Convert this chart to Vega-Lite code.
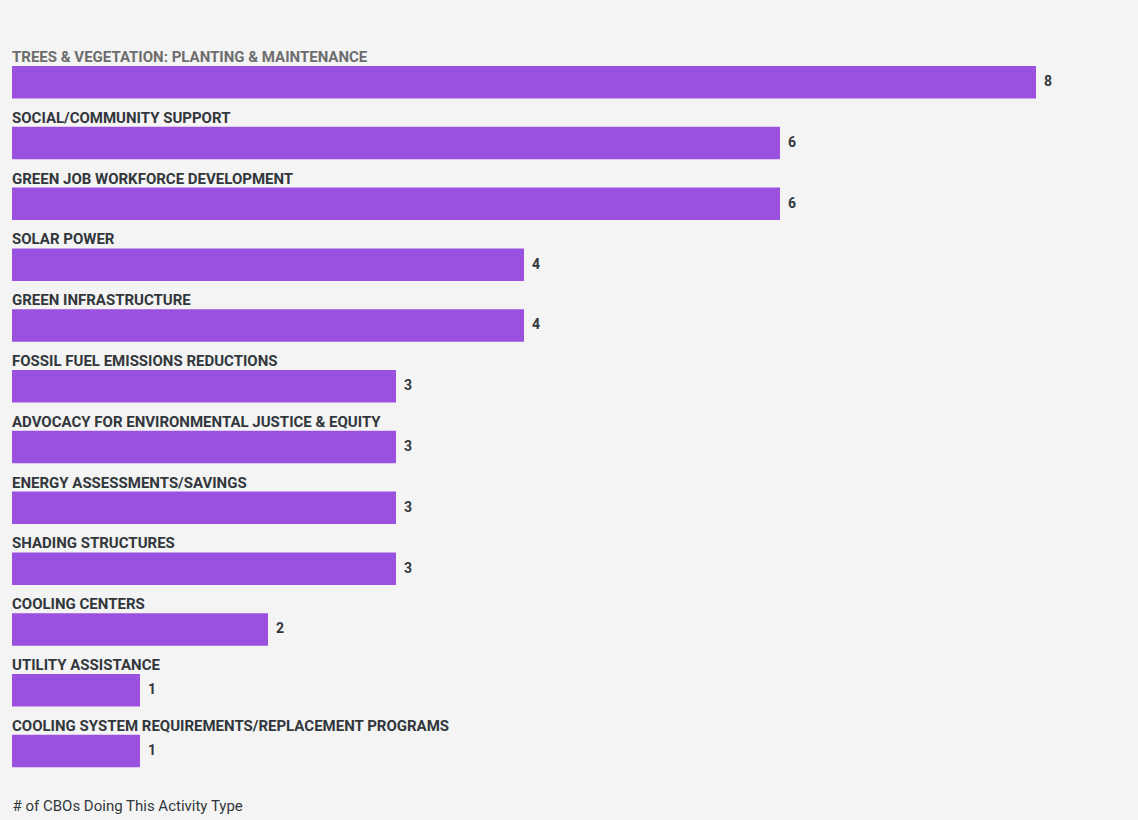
{
  "$schema": "https://vega.github.io/schema/vega-lite/v6.json",
  "autosize": {"type": "none"},
  "padding": {"left": 12, "top": 66, "right": 102, "bottom": 52.7},
  "width": 1024,
  "height": 701.3,
  "background": "#f4f4f4",
  "config": {"view": {"stroke": null}, "font": "Roboto"},
  "data": {
    "values": [
      {"activity": "TREES & VEGETATION: PLANTING & MAINTENANCE", "count": 8},
      {"activity": "SOCIAL/COMMUNITY SUPPORT", "count": 6},
      {"activity": "GREEN JOB WORKFORCE DEVELOPMENT", "count": 6},
      {"activity": "SOLAR POWER", "count": 4},
      {"activity": "GREEN INFRASTRUCTURE", "count": 4},
      {"activity": "FOSSIL FUEL EMISSIONS REDUCTIONS", "count": 3},
      {"activity": "ADVOCACY FOR ENVIRONMENTAL JUSTICE & EQUITY", "count": 3},
      {"activity": "ENERGY ASSESSMENTS/SAVINGS", "count": 3},
      {"activity": "SHADING STRUCTURES", "count": 3},
      {"activity": "COOLING CENTERS", "count": 2},
      {"activity": "UTILITY ASSISTANCE", "count": 1},
      {"activity": "COOLING SYSTEM REQUIREMENTS/REPLACEMENT PROGRAMS", "count": 1}
    ]
  },
  "encoding": {
    "y": {
      "field": "activity",
      "type": "nominal",
      "sort": null,
      "scale": {"paddingInner": 0.4655, "paddingOuter": 0},
      "axis": null
    }
  },
  "layer": [
    {
      "mark": {"type": "bar", "color": "#9b51e0"},
      "encoding": {
        "x": {
          "field": "count",
          "type": "quantitative",
          "scale": {"domain": [0, 8], "nice": false},
          "axis": {
            "domain": false,
            "ticks": false,
            "labels": false,
            "grid": false,
            "title": "# of CBOs Doing This Activity Type",
            "titleAnchor": "start",
            "titleFontWeight": "normal",
            "titleFontSize": 15,
            "titleColor": "#32373c",
            "titleFont": "Roboto",
            "titlePadding": 31
          }
        }
      }
    },
    {
      "mark": {"type": "text", "align": "left", "baseline": "bottom", "dy": -1, "fontSize": 15, "fontWeight": "bold", "font": "Roboto"},
      "encoding": {
        "y": {"field": "activity", "type": "nominal", "sort": null, "bandPosition": 0},
        "x": {"datum": 0},
        "text": {"field": "activity"},
        "color": {
          "condition": {"test": "datum.activity === 'TREES & VEGETATION: PLANTING & MAINTENANCE'", "value": "#6d6d6d"},
          "value": "#32373c"
        }
      }
    },
    {
      "mark": {"type": "text", "align": "left", "baseline": "middle", "dx": 8, "fontSize": 14, "fontWeight": "bold", "font": "Roboto", "color": "#32373c"},
      "encoding": {
        "x": {"field": "count", "type": "quantitative"},
        "text": {"field": "count", "type": "quantitative"}
      }
    }
  ]
}
